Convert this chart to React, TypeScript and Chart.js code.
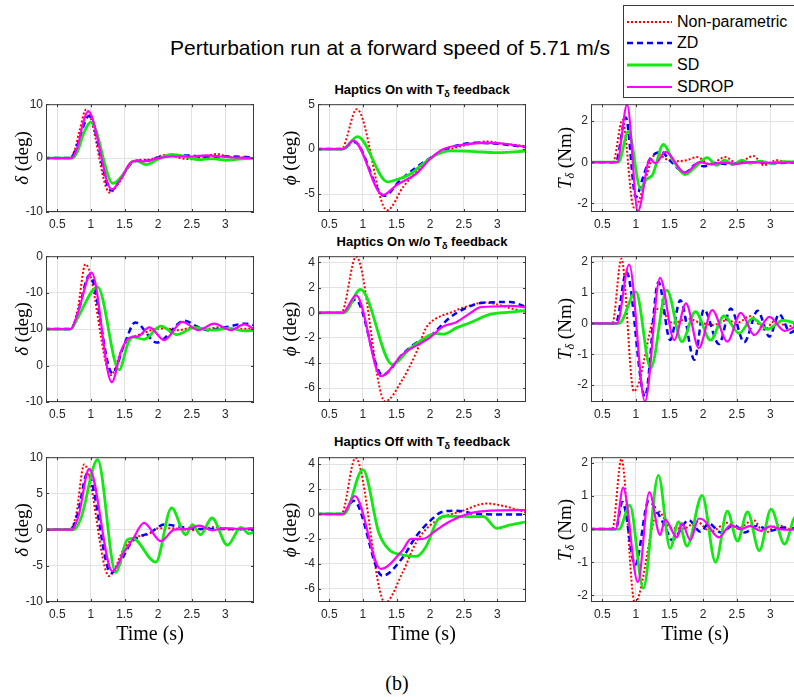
import React, { useEffect, useRef } from "react";
import { Chart, registerables } from "chart.js";

Chart.register(...registerables);

type Pt = [number, number];

// ---------- labels / ticks ----------
const SERIES_NAMES = ["Non-parametric", "ZD", "SD", "SDROP"];
const X_TICKS = [0.5, 1, 1.5, 2, 2.5, 3];
const X_MIN = 0.333;
const X_MAX = 3.425;

const D1_TICKS = [-10, 0, 10];
const P1_TICKS = [-5, 0, 5];
const T1_TICKS = [-2, 0, 2];
const D2_TICKS = [-20, -10, 0, 10, 20];
const D2_TICK_LABELS = ["-10", "0", "10", "-10", "0"];
const P2_TICKS = [-6, -4, -2, 0, 2, 4];
const T2_TICKS = [-2, -1, 0, 1, 2];
const D3_TICKS = [-10, -5, 0, 5, 10];
const P3_TICKS = [-6, -4, -2, 0, 2, 4];
const T3_TICKS = [-2, -1, 0, 1, 2];

// ---------- Row 1: Haptics On with T feedback ----------
const d1_np: Pt[] = [[0.3,0],[0.68,0],[0.76,1.5],[0.83,5],[0.93,9.0],[1.28,-6.4],[1.42,-4.5],[1.55,-1.8],[1.63,-0.5],[1.85,-0.3],[2.12,0.6],[2.33,0.0],[2.5,-0.2],[2.65,0.2],[2.88,0.75],[3.05,0.2],[3.25,0.1],[3.45,0]];
const d1_zd: Pt[] = [[0.3,0],[0.7,0],[0.8,2.5],[0.97,7.8],[1.3,-6.0],[1.45,-3.6],[1.6,-1.0],[1.7,-0.5],[1.83,-0.5],[2.0,0.1],[2.2,0.5],[2.45,0.5],[2.7,0.2],[3.0,0.3],[3.45,0.1]];
const d1_sd: Pt[] = [[0.3,0],[0.72,0],[0.8,1.2],[0.9,4.8],[1.0,6.7],[1.33,-4.7],[1.47,-3.2],[1.6,-0.8],[1.68,-0.5],[1.82,-1.2],[2.0,-0.2],[2.2,0.7],[2.4,0.3],[2.6,-0.3],[2.8,-0.1],[3.0,-0.4],[3.2,-0.2],[3.45,0]];
const d1_sdrop: Pt[] = [[0.3,0],[0.7,0],[0.8,2],[0.88,6.3],[0.96,8.7],[1.31,-5.8],[1.45,-3.8],[1.58,-1],[1.68,-0.5],[1.8,-0.6],[2.0,0],[2.2,0.3],[2.5,0.3],[2.7,0.5],[3.0,0.2],[3.45,0]];

const p1_np: Pt[] = [[0.3,0],[0.68,0],[0.91,4.45],[1.36,-6.8],[1.6,-4.2],[1.8,-2.5],[2.0,-1.0],[2.2,-0.3],[2.5,0.4],[2.85,0.85],[3.1,0.6],[3.45,0.3]];
const p1_zd: Pt[] = [[0.3,0],[0.7,0],[0.87,0.8],[1.32,-5.2],[1.55,-3.5],[1.8,-2.0],[2.0,-1.0],[2.2,-0.1],[2.45,0.5],[2.7,0.7],[3.0,0.6],[3.45,0.2]];
const p1_sd: Pt[] = [[0.3,0],[0.7,0],[0.92,1.4],[1.37,-3.65],[1.5,-3.4],[1.7,-2.8],[1.9,-1.6],[2.1,-0.6],[2.3,-0.2],[2.6,-0.25],[3.0,-0.4],[3.45,-0.2]];
const p1_sdrop: Pt[] = [[0.3,0],[0.7,0],[0.86,0.95],[1.3,-5.1],[1.5,-4.0],[1.8,-2.7],[2.0,-1.1],[2.2,0],[2.5,0.5],[2.8,0.7],[3.1,0.6],[3.45,0.2]];

const t1_np: Pt[] = [[0.3,0],[0.66,0],[0.8,2.07],[0.97,-2.2],[1.31,0.45],[1.45,0.15],[1.58,0.05],[1.75,0.1],[1.91,0.25],[2.1,-0.1],[2.33,0.25],[2.5,-0.05],[2.75,0.3],[2.9,-0.15],[3.1,0.1],[3.25,0],[3.45,0.05]];
const t1_zd: Pt[] = [[0.3,0],[0.7,0],[0.85,2.17],[1.0,-1.7],[1.1,-0.8],[1.2,0.1],[1.38,0.5],[1.5,0.1],[1.73,-0.5],[1.9,-0.1],[2.0,-0.2],[2.2,-0.05],[2.4,-0.1],[2.6,0],[2.8,0],[3.0,-0.05],[3.45,0]];
const t1_sd: Pt[] = [[0.3,0],[0.74,0],[0.89,1.5],[1.07,-1.28],[1.15,-0.85],[1.2,-0.75],[1.25,-0.6],[1.41,0.86],[1.55,0.1],[1.73,-0.6],[1.91,-0.15],[2.06,0.22],[2.2,-0.15],[2.32,0.1],[2.45,-0.12],[2.57,0.1],[2.7,-0.05],[2.85,0.05],[3.0,-0.05],[3.2,0.03],[3.45,0]];
const t1_sdrop: Pt[] = [[0.3,0],[0.72,0],[0.87,2.8],[1.03,-2.38],[1.21,0.15],[1.29,-0.05],[1.44,0.5],[1.73,-0.52],[1.95,0],[2.1,-0.1],[2.3,-0.02],[2.5,-0.08],[2.7,0],[3.0,-0.03],[3.45,0]];

// ---------- Row 2: Haptics On w/o T feedback ----------
const d2_np: Pt[] = [[0.3,0],[0.7,0],[0.8,5],[0.92,17.8],[1.3,-12.6],[1.45,-6],[1.55,-3],[1.65,-2],[1.8,-1],[1.95,0],[2.1,0.2],[2.3,-0.3],[2.5,0.4],[2.7,0],[2.9,0.5],[3.1,0],[3.45,0.2]];
const d2_zd: Pt[] = [[0.3,0],[0.7,0],[0.8,4],[0.98,14.8],[1.32,-12.1],[1.5,-4],[1.66,1.8],[1.98,-3.7],[2.39,2.3],[2.6,0.5],[2.75,-0.3],[3.0,0.5],[3.3,1.5],[3.45,1.0]];
const d2_sd: Pt[] = [[0.3,0],[0.7,0],[0.8,3],[1.1,11.6],[1.42,-11.2],[1.55,-4],[1.62,-2.1],[1.79,-2.8],[2.04,0.8],[2.28,-1.5],[2.55,0.5],[2.8,-0.3],[3.05,0.2],[3.3,-0.5],[3.45,-0.3]];
const d2_sdrop: Pt[] = [[0.3,0],[0.7,0],[0.8,4],[1.01,15.5],[1.31,-14.6],[1.45,-6],[1.57,-2.4],[1.7,-2.0],[1.87,0.45],[2.09,-3],[2.36,2.0],[2.6,-0.3],[2.83,1.5],[3.08,-0.3],[3.28,1.3],[3.45,-0.3]];

const p2_np: Pt[] = [[0.3,0],[0.68,0],[0.9,4.47],[1.33,-7.05],[1.59,-5.3],[1.79,-3.2],[1.94,-1.2],[2.09,-0.45],[2.3,0],[2.49,0.4],[2.82,0.82],[3.0,0.66],[3.2,0.35],[3.45,0.05]];
const p2_zd: Pt[] = [[0.3,0],[0.7,0],[0.89,1.06],[1.29,-4.95],[1.59,-3.3],[1.79,-2.4],[1.99,-1.9],[2.29,-0.4],[2.49,0.27],[2.79,0.8],[3.19,0.85],[3.45,0.4]];
const p2_sd: Pt[] = [[0.3,0],[0.72,0],[0.965,1.86],[1.44,-4.12],[1.69,-2.9],[1.99,-1.8],[2.1,-1.65],[2.2,-1.7],[2.39,-1.2],[2.59,-0.8],[2.89,-0.13],[3.2,0.05],[3.45,0.2]];
const p2_sdrop: Pt[] = [[0.3,0],[0.7,0],[0.9,1.38],[1.27,-5.05],[1.59,-3.3],[1.99,-2.0],[2.19,-1.1],[2.39,-0.75],[2.59,-0.05],[2.75,0.45],[3.0,0.5],[3.2,0.55],[3.45,0.4]];

const t2_np: Pt[] = [[0.3,0],[0.65,0],[0.785,2.1],[0.97,-2.2],[1.335,0.48],[1.56,0],[1.76,0.16],[1.95,0.03],[2.15,-0.05],[2.35,0.1],[2.5,0.02],[2.71,0.24],[2.91,-0.2],[3.08,0.1],[3.25,-0.1],[3.45,0.05]];
const t2_zd: Pt[] = [[0.3,0],[0.7,0],[0.86,1.67],[1.135,-2.37],[1.335,1.34],[1.51,-0.54],[1.66,0.75],[1.87,-1.18],[2.01,0.45],[2.235,-0.67],[2.41,0.48],[2.61,-0.61],[2.81,0.41],[2.985,-0.43],[3.13,0.3],[3.3,-0.3],[3.45,0]];
const t2_sd: Pt[] = [[0.3,0],[0.75,0],[1.0,1.02],[1.22,-1.45],[1.46,1.08],[1.685,-0.59],[1.885,0.38],[2.11,-0.54],[2.31,0.24],[2.535,-0.32],[2.735,0.16],[2.96,-0.19],[3.185,0.1],[3.45,-0.05]];
const t2_sdrop: Pt[] = [[0.3,0],[0.72,0],[0.9,1.91],[1.135,-2.53],[1.36,1.48],[1.57,-0.54],[1.745,0.65],[1.935,-0.8],[2.135,0.43],[2.36,-0.59],[2.56,0.34],[2.76,-0.38],[2.985,0.21],[3.21,-0.24],[3.45,0]];

// ---------- Row 3: Haptics Off with T feedback ----------
const d3_np: Pt[] = [[0.3,0],[0.68,0],[0.78,2],[0.9,9.0],[1.27,-6.4],[1.5,-2.5],[1.64,-1.15],[1.84,-0.7],[2.01,0.2],[2.2,0.2],[2.53,-0.1],[2.83,0.35],[3.05,0],[3.45,0]];
const d3_zd: Pt[] = [[0.3,0],[0.7,0],[0.8,2],[0.95,7.8],[1.3,-6.0],[1.62,-1.6],[1.89,-0.37],[2.09,0.7],[2.34,0.37],[2.6,0.1],[3.0,0.1],[3.45,0.1]];
const d3_sd: Pt[] = [[0.3,0],[0.75,0],[0.85,1.5],[1.1,9.65],[1.37,-5.9],[1.54,-1.4],[1.62,-1.2],[1.965,-4.5],[2.2,3.0],[2.41,-0.7],[2.51,0.7],[2.63,-0.7],[2.8,1.6],[3.03,-2.15],[3.23,0.3],[3.35,-0.55],[3.45,-0.2]];
const d3_sdrop: Pt[] = [[0.3,0],[0.72,0],[0.82,2],[0.975,8.4],[1.32,-5.75],[1.5,-3],[1.62,-1.4],[1.79,0.92],[2.04,-1.6],[2.24,0],[2.44,0.1],[2.61,0.55],[2.8,-0.1],[3.0,0.2],[3.2,0.1],[3.45,0.2]];

const p3_np: Pt[] = [[0.3,0],[0.68,0],[0.89,4.5],[1.33,-7.1],[1.59,-4.7],[1.79,-2.3],[1.99,-0.95],[2.19,-0.27],[2.49,0.27],[2.84,0.85],[3.09,0.64],[3.45,0.1]];
const p3_zd: Pt[] = [[0.3,0],[0.7,0],[0.865,1.06],[1.29,-4.95],[1.59,-3.5],[1.79,-1.8],[1.99,-0.6],[2.19,0.19],[2.4,0.27],[2.69,0],[3.45,-0.05]];
const p3_sd: Pt[] = [[0.3,0],[0.72,0],[1.0,3.56],[1.24,-1.55],[1.39,-2.87],[1.59,-3.27],[1.79,-3.4],[1.94,-2.6],[2.11,-0.48],[2.24,-0.16],[2.59,-0.22],[2.79,-0.2],[2.99,-1.14],[3.19,-0.88],[3.45,-0.6]];
const p3_sdrop: Pt[] = [[0.3,0],[0.7,0],[0.88,1.44],[1.265,-4.4],[1.59,-2.9],[1.715,-2.0],[1.89,-2.0],[2.09,-1.3],[2.29,-0.6],[2.59,0.05],[2.89,0.27],[3.45,0.32]];

const t3_np: Pt[] = [[0.3,0],[0.65,0],[0.785,2.12],[0.985,-2.23],[1.335,0.54],[1.51,0.05],[1.71,0.02],[1.91,0.22],[2.11,-0.08],[2.36,0.19],[2.51,0.02],[2.75,0.27],[2.91,-0.13],[3.11,0.12],[3.3,0],[3.45,0.02]];
const t3_zd: Pt[] = [[0.3,0],[0.7,0],[0.8,0.82],[0.99,-1.08],[1.19,0.85],[1.35,0.4],[1.45,0.0],[1.535,-0.33],[1.785,0.27],[1.96,-0.08],[2.085,0.17],[2.26,-0.1],[2.46,0.12],[2.62,-0.1],[2.8,0.1],[3.0,-0.05],[3.2,0.05],[3.45,0]];
const t3_sd: Pt[] = [[0.3,0],[0.75,0],[0.91,0.72],[1.11,-1.78],[1.335,1.62],[1.51,-0.58],[1.635,0.22],[1.76,-0.51],[1.985,1.02],[2.185,-1.0],[2.36,0.54],[2.51,-0.36],[2.66,0.52],[2.835,-0.65],[3.01,0.6],[3.21,-0.45],[3.38,0.39],[3.45,0.3]];
const t3_sdrop: Pt[] = [[0.3,0],[0.7,0],[0.81,1.25],[1.03,-1.6],[1.2,1.12],[1.36,-0.18],[1.435,0.29],[1.61,-0.25],[1.685,0.17],[1.81,-0.33],[1.935,0.32],[2.01,0.27],[2.235,-0.25],[2.41,0.12],[2.56,0],[2.7,0.1],[2.85,-0.05],[3.0,0.08],[3.2,-0.02],[3.45,0]];

// ---------- styles & layout ----------
const SERIES_STYLE = [
  { color: "#ff0000", width: 2, dash: [2, 2], order: 3 },
  { color: "#0000ff", width: 2.5, dash: [6, 4], order: 2 },
  { color: "#12e812", width: 2.8, dash: [] as number[], order: 1 },
  { color: "#ff00ff", width: 2.2, dash: [] as number[], order: 0 },
];
const GRID_COLOR = "#e2e2e2";
const AXIS_COLOR = "#3a3a3a";
const TICK_COLOR = "#262626";
const SANS = "'Liberation Sans', Arial, Helvetica, sans-serif";
const SERIF = "'Liberation Serif', 'Times New Roman', 'DejaVu Serif', serif";

const COL_LEFT = [46, 318, 591];
const ROW_TOP = [104, 256, 457];
const ROW_H = [108, 146, 145];
const PLOT_W = 208;
const Y_AXIS_W = 40;
const X_AXIS_H = 26;
const PAD_T = 10;
const PAD_R = 6;

type PanelCfg = {
  row: number;
  col: number;
  series: Pt[][];
  yMin: number;
  yMax: number;
  yTicks: number[];
  yLabels?: string[];
};

const PANELS: PanelCfg[] = [
  { row: 0, col: 0, series: [d1_np, d1_zd, d1_sd, d1_sdrop], yMin: -10, yMax: 10, yTicks: D1_TICKS },
  { row: 0, col: 1, series: [p1_np, p1_zd, p1_sd, p1_sdrop], yMin: -7, yMax: 5, yTicks: P1_TICKS },
  { row: 0, col: 2, series: [t1_np, t1_zd, t1_sd, t1_sdrop], yMin: -2.42, yMax: 2.82, yTicks: T1_TICKS },
  { row: 1, col: 0, series: [d2_np, d2_zd, d2_sd, d2_sdrop], yMin: -20, yMax: 20, yTicks: D2_TICKS, yLabels: D2_TICK_LABELS },
  { row: 1, col: 1, series: [p2_np, p2_zd, p2_sd, p2_sdrop], yMin: -7.1, yMax: 4.5, yTicks: P2_TICKS },
  { row: 1, col: 2, series: [t2_np, t2_zd, t2_sd, t2_sdrop], yMin: -2.55, yMax: 2.18, yTicks: T2_TICKS },
  { row: 2, col: 0, series: [d3_np, d3_zd, d3_sd, d3_sdrop], yMin: -10, yMax: 10, yTicks: D3_TICKS },
  { row: 2, col: 1, series: [p3_np, p3_zd, p3_sd, p3_sdrop], yMin: -7.05, yMax: 4.55, yTicks: P3_TICKS },
  { row: 2, col: 2, series: [t3_np, t3_zd, t3_sd, t3_sdrop], yMin: -2.2, yMax: 2.17, yTicks: T3_TICKS },
];

const boxPlugin = {
  id: "matlabBox",
  afterDraw(chart: any) {
    const { ctx, chartArea: a, scales } = chart;
    ctx.save();
    ctx.strokeStyle = AXIS_COLOR;
    ctx.lineWidth = 1;
    ctx.strokeRect(a.left + 0.5, a.top + 0.5, a.right - a.left - 1, a.bottom - a.top - 1);
    ctx.beginPath();
    for (const t of scales.x.ticks) {
      const px = Math.round(scales.x.getPixelForValue(t.value)) + 0.5;
      ctx.moveTo(px, a.bottom);
      ctx.lineTo(px, a.bottom - 3);
      ctx.moveTo(px, a.top);
      ctx.lineTo(px, a.top + 3);
    }
    for (const t of scales.y.ticks) {
      const py = Math.round(scales.y.getPixelForValue(t.value)) + 0.5;
      ctx.moveTo(a.left, py);
      ctx.lineTo(a.left + 3, py);
      ctx.moveTo(a.right, py);
      ctx.lineTo(a.right - 3, py);
    }
    ctx.stroke();
    ctx.restore();
  },
};

function Panel({ cfg }: { cfg: PanelCfg }) {
  const ref = useRef<HTMLCanvasElement>(null);
  const h = ROW_H[cfg.row];
  const cw = PLOT_W + Y_AXIS_W + PAD_R;
  const chh = h + PAD_T + X_AXIS_H;
  useEffect(() => {
    const chart = new Chart(ref.current as HTMLCanvasElement, {
      type: "line",
      data: {
        datasets: cfg.series.map((s, i) => ({
          label: SERIES_NAMES[i],
          data: s.map(([x, y]) => ({ x, y })),
          borderColor: SERIES_STYLE[i].color,
          borderWidth: SERIES_STYLE[i].width,
          borderDash: SERIES_STYLE[i].dash,
          borderCapStyle: "butt",
          pointRadius: 0,
          fill: false,
          cubicInterpolationMode: "monotone",
          order: SERIES_STYLE[i].order,
          clip: 0,
        })),
      },
      options: {
        responsive: false,
        maintainAspectRatio: false,
        animation: false,
        events: [],
        layout: { padding: { top: PAD_T, right: PAD_R, left: 0, bottom: 0 } },
        plugins: { legend: { display: false }, tooltip: { enabled: false }, title: { display: false } },
        scales: {
          x: {
            type: "linear",
            min: X_MIN,
            max: X_MAX,
            afterBuildTicks: (s: any) => {
              s.ticks = X_TICKS.map((v) => ({ value: v }));
            },
            afterFit: (s: any) => {
              s.height = X_AXIS_H;
            },
            grid: { color: GRID_COLOR, drawTicks: false, lineWidth: 1 },
            border: { display: false },
            ticks: {
              padding: 5,
              color: TICK_COLOR,
              font: { family: SANS, size: 12 },
              autoSkip: false,
              maxRotation: 0,
              callback: (v: any) => String(v),
            },
          },
          y: {
            type: "linear",
            min: cfg.yMin,
            max: cfg.yMax,
            afterBuildTicks: (s: any) => {
              s.ticks = cfg.yTicks.map((v) => ({ value: v }));
            },
            afterFit: (s: any) => {
              s.width = Y_AXIS_W;
            },
            grid: { color: GRID_COLOR, drawTicks: false, lineWidth: 1 },
            border: { display: false },
            ticks: {
              padding: 3,
              color: TICK_COLOR,
              font: { family: SANS, size: 12 },
              autoSkip: false,
              callback: (v: any) => {
                if (cfg.yLabels) {
                  const idx = cfg.yTicks.indexOf(Number(v));
                  return idx >= 0 ? cfg.yLabels[idx] : "";
                }
                return String(v);
              },
            },
          },
        },
      },
      plugins: [boxPlugin],
    } as any);
    return () => chart.destroy();
  }, []);
  return (
    <canvas
      ref={ref}
      width={cw}
      height={chh}
      style={{
        position: "absolute",
        left: COL_LEFT[cfg.col] - Y_AXIS_W,
        top: ROW_TOP[cfg.row] - PAD_T,
        width: cw,
        height: chh,
      }}
    />
  );
}

const SUBTITLES = ["Haptics On with ", "Haptics On w/o ", "Haptics Off with "];
const SUBTITLE_Y = [91, 243, 443];
const YLABEL_X = [21, 289, 565];

function YLabel({ col, row }: { col: number; row: number }) {
  const cy = ROW_TOP[row] + ROW_H[row] / 2;
  let content: React.ReactNode;
  if (col === 0) content = (<><i>δ</i> (deg)</>);
  else if (col === 1) content = (<><i>ϕ</i> (deg)</>);
  else content = (<><i>T</i><sub style={{ fontSize: 12, verticalAlign: "-3px" }}><i>δ</i></sub> (Nm)</>);
  return (
    <div
      style={{
        position: "absolute",
        left: YLABEL_X[col],
        top: cy,
        transform: "translate(-50%, -50%) rotate(-90deg)",
        whiteSpace: "nowrap",
        fontFamily: SERIF,
        fontSize: 19,
        lineHeight: 1,
        color: "#000",
      }}
    >
      {content}
    </div>
  );
}

function Legend() {
  return (
    <div
      style={{
        position: "absolute",
        left: 623,
        top: 5,
        width: 200,
        height: 93,
        border: `1px solid ${AXIS_COLOR}`,
        boxSizing: "border-box",
        background: "#fff",
      }}
    >
      {SERIES_NAMES.map((name, i) => (
        <div
          key={name}
          style={{
            position: "absolute",
            left: 3,
            top: 15.7 + i * 21.7 - 10,
            height: 20,
            display: "flex",
            alignItems: "center",
            whiteSpace: "nowrap",
          }}
        >
          <svg width={45} height={6} style={{ display: "block" }}>
            <line
              x1={0}
              y1={3}
              x2={45}
              y2={3}
              stroke={SERIES_STYLE[i].color}
              strokeWidth={SERIES_STYLE[i].width}
              strokeDasharray={SERIES_STYLE[i].dash.length ? SERIES_STYLE[i].dash.join(" ") : undefined}
            />
          </svg>
          <span style={{ marginLeft: 5, fontFamily: SANS, fontSize: 16, color: "#000", lineHeight: 1 }}>{name}</span>
        </div>
      ))}
    </div>
  );
}

export default function App() {
  return (
    <div
      style={{
        position: "fixed",
        left: 0,
        top: 0,
        width: 794,
        height: 697,
        overflow: "hidden",
        background: "#fff",
      }}
    >
      <div
        style={{
          position: "absolute",
          left: 390,
          top: 47,
          transform: "translate(-50%, -50%)",
          whiteSpace: "nowrap",
          fontFamily: SANS,
          fontSize: 21,
          lineHeight: 1,
          color: "#000",
        }}
      >
        Perturbation run at a forward speed of 5.71 m/s
      </div>
      {SUBTITLES.map((s, r) => (
        <div
          key={s}
          style={{
            position: "absolute",
            left: COL_LEFT[1] + PLOT_W / 2,
            top: SUBTITLE_Y[r],
            transform: "translate(-50%, -50%)",
            whiteSpace: "nowrap",
            fontFamily: SANS,
            fontWeight: "bold",
            fontSize: 13,
            lineHeight: 1,
            color: "#000",
          }}
        >
          {s}T<sub style={{ fontSize: 9, verticalAlign: "-3px" }}>δ</sub> feedback
        </div>
      ))}
      {PANELS.map((p, i) => (
        <Panel key={i} cfg={p} />
      ))}
      {[0, 1, 2].map((r) => [0, 1, 2].map((c) => <YLabel key={`${r}-${c}`} row={r} col={c} />))}
      {[0, 1, 2].map((c) => (
        <div
          key={c}
          style={{
            position: "absolute",
            left: COL_LEFT[c] + PLOT_W / 2,
            top: 633,
            transform: "translate(-50%, -50%)",
            whiteSpace: "nowrap",
            fontFamily: SERIF,
            fontSize: 20,
            lineHeight: 1,
            color: "#000",
          }}
        >
          Time (s)
        </div>
      ))}
      <Legend />
      <div
        style={{
          position: "absolute",
          left: 397,
          top: 683,
          transform: "translate(-50%, -50%)",
          fontFamily: SERIF,
          fontSize: 20,
          lineHeight: 1,
          color: "#000",
        }}
      >
        (b)
      </div>
    </div>
  );
}
